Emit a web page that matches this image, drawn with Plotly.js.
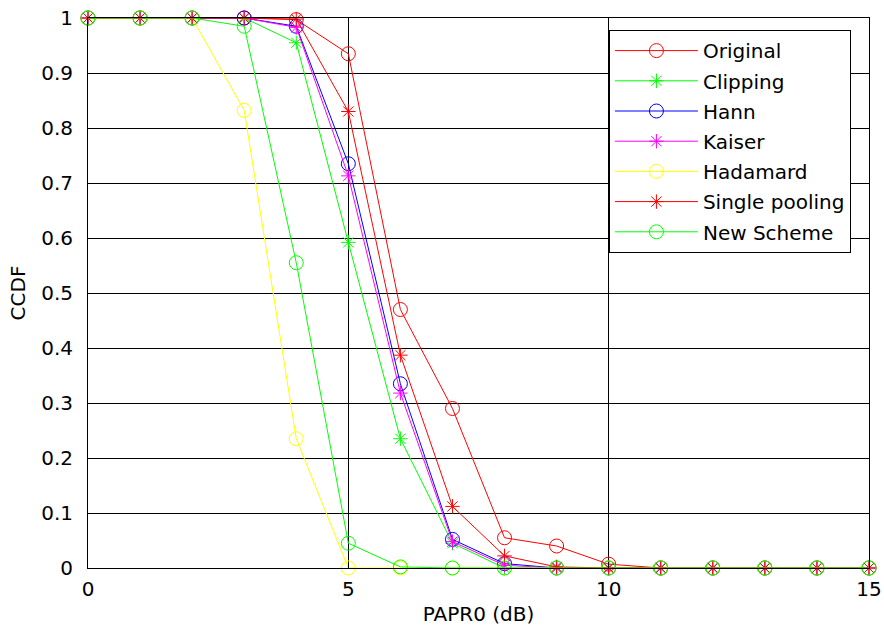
<!DOCTYPE html>
<html>
<head>
<meta charset="utf-8">
<script src="https://cdn.plot.ly/plotly-3.0.1.min.js"></script>
<style>html,body{margin:0;padding:0;background:#fff;}#chart{width:884px;height:628px;}</style>
</head>
<body>
<div id="chart"></div>
<script>
var papr = [0,1,2,3,4,5,6,7,8,9,10,11,12,13,14,15];
var original      = [1,1,1,1,0.997,0.935,0.47,0.29,0.055,0.04,0.007,0,0,0,0,0];
var clipping      = [1,1,1,1,0.955,0.592,0.235,0.045,0,0,0,0,0,0,0,0];
var hann          = [1,1,1,1,0.985,0.735,0.335,0.052,0.008,0,0,0,0,0,0,0];
var kaiser        = [1,1,1,1,0.983,0.713,0.318,0.048,0.005,0,0,0,0,0,0,0];
var hadamard      = [1,1,1,0.832,0.235,0,0,0,0,0,0,0,0,0,0,0];
var singlePooling = [1,1,1,1,0.998,0.83,0.387,0.112,0.022,0.002,0,0,0,0,0,0];
var newScheme     = [1,1,1,0.985,0.555,0.045,0.002,0,0,0,0,0,0,0,0,0];
var xTicks = [0,5,10,15];
var yTicks = [0,0.1,0.2,0.3,0.4,0.5,0.6,0.7,0.8,0.9,1];
var yTickText = ['0','0.1','0.2','0.3','0.4','0.5','0.6','0.7','0.8','0.9','1'];

var series = [
  {name:'Original', y:original, color:'#ff0000', symbol:'circle-open', size:14},
  {name:'Clipping', y:clipping, color:'#00ff00', symbol:'asterisk-open', size:12},
  {name:'Hann', y:hann, color:'#0000ff', symbol:'circle-open', size:14},
  {name:'Kaiser', y:kaiser, color:'#ff00ff', symbol:'asterisk-open', size:12},
  {name:'Hadamard', y:hadamard, color:'#ffff00', symbol:'circle-open', size:14},
  {name:'Single pooling', y:singlePooling, color:'#ff0000', symbol:'asterisk-open', size:12},
  {name:'New Scheme', y:newScheme, color:'#00ff00', symbol:'circle-open', size:14}
];

var traces = series.map(function(s, i){
  return {
    x: papr, y: s.y, name: s.name, type:'scatter', mode:'lines+markers',
    legendgroup:'g'+i,
    cliponaxis:false,
    line:{color:s.color, width:1},
    marker:{symbol:s.symbol, size:s.size, color:s.color, line:{color:s.color, width:1}}
  };
});

var font = {family:'DejaVu Sans, Liberation Sans, Arial, sans-serif', size:20, color:'#000'};

var layout = {
  width:884, height:628,
  margin:{l:88, r:15, t:18, b:60},
  paper_bgcolor:'#fff', plot_bgcolor:'#fff',
  font: font,
  showlegend:true,
  legend:{
    x:0.667, y:0.978, xanchor:'left', yanchor:'top',
    bgcolor:'#fff', bordercolor:'#000', borderwidth:1,
    font:{family:font.family, size:20, color:'#000'},
    itemwidth:83,
    tracegroupgap:1.2
  },
  xaxis:{
    range:[0,15], tickvals:xTicks, ticktext:xTicks.map(String),
    showgrid:true, gridcolor:'#000', gridwidth:1,
    showline:true, linecolor:'#000', linewidth:1, mirror:true,
    ticks:'inside', ticklen:6, tickcolor:'#000',
    ticklabelstandoff:3,
    zeroline:false,
    title:{text:'PAPR0 (dB)', font:{family:font.family, size:20, color:'#000'}, standoff:6},
    tickfont:{family:font.family, size:20, color:'#000'}
  },
  yaxis:{
    range:[0,1], tickvals:yTicks, ticktext:yTickText,
    showgrid:true, gridcolor:'#000', gridwidth:1,
    showline:true, linecolor:'#000', linewidth:1, mirror:true,
    ticks:'inside', ticklen:6, tickcolor:'#000',
    ticklabelstandoff:10,
    zeroline:false,
    title:{text:'CCDF', font:{family:font.family, size:20, color:'#000'}, standoff:10},
    tickfont:{family:font.family, size:20, color:'#000'}
  }
};

Plotly.newPlot('chart', traces, layout, {displayModeBar:false, staticPlot:true});
</script>
</body>
</html>
